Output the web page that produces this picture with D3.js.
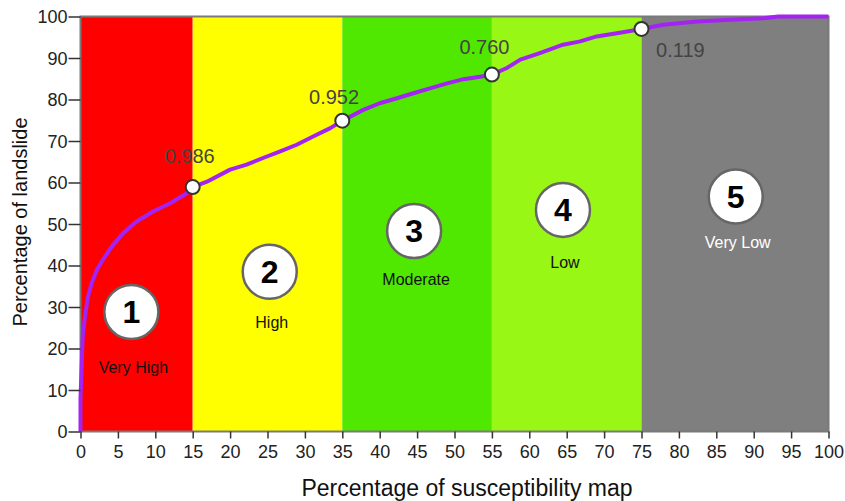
<!DOCTYPE html>
<html><head><meta charset="utf-8">
<script src="https://cdn.jsdelivr.net/npm/d3@7"></script>
<style>body{margin:0;background:#fff}svg{display:block;font-family:Arial,"Liberation Sans",sans-serif}</style>
</head><body><svg id="c" width="845" height="501"></svg>
<script>
const zoneStarts = [0, 15, 35, 55, 75];
const zoneEnds = [15, 35, 55, 75, 100];
const zoneColors = ["#ff0000", "#ffff00", "#50e800", "#99f716", "#7f7f7f"];
const zoneNumbers = ["1", "2", "3", "4", "5"];
const zoneNames = ["Very High", "High", "Moderate", "Low", "Very Low"];
const zoneNameColors = ["#111", "#111", "#111", "#111", "#fff"];
const badgeX = [6.8, 25.3, 44.6, 64.5, 87.6];
const badgeY = [28.8, 38.5, 48.3, 53.4, 56.6];
const nameY = [15.3, 26.2, 36.5, 40.5, 45.4];
const curveX = [0, 0, 0.3, 0.6, 1.0, 1.5, 2.2, 3.0, 4.2, 5.7, 7.5, 9.7, 12.0, 14.2, 15, 16.9, 20.0, 22.2, 24.4, 26.7, 28.9, 31.1, 33.4, 35, 37.8, 40.0, 42.3, 44.5, 46.7, 49.0, 51.2, 53.4, 55, 57.0, 58.8, 61.4, 64.5, 66.8, 69.0, 72.1, 75, 77.9, 82.4, 86.8, 91.3, 93.3, 100];
const curveY = [0, 8, 23, 27.7, 32.5, 35.8, 39, 41.4, 44.6, 47.8, 50.6, 53.0, 55.0, 57.4, 58.9, 60.2, 63.1, 64.3, 65.9, 67.5, 69.1, 71.1, 73.1, 74.9, 77.5, 79.1, 80.3, 81.5, 82.7, 83.9, 84.9, 85.5, 86.0, 87.6, 89.6, 91.2, 93.2, 94.0, 95.2, 96.1, 97.0, 98.0, 98.8, 99.2, 99.6, 100, 100];
const markerX = [15, 35, 55, 75];
const markerY = [58.9, 74.9, 86.0, 97.0];
const markerLabels = ["0.986", "0.952", "0.760", "0.119"];
const markerLabelX = [14.6, 33.9, 54.0, 80.2];
const markerLabelY = [64.7, 78.9, 91.0, 90.2];
const xTicks = d3.range(0, 101, 5);
const yTicks = d3.range(0, 101, 10);

const svg = d3.select("#c");
const x = d3.scaleLinear().domain([0, 100]).range([80.5, 828.5]);
const y = d3.scaleLinear().domain([0, 100]).range([431.5, 16.5]);

const g = svg.append("g");
g.selectAll("rect.zone").data(zoneStarts).join("rect")
  .attr("x", (d) => x(d)).attr("y", y(100))
  .attr("width", (d, i) => x(zoneEnds[i]) - x(d))
  .attr("height", y(0) - y(100))
  .attr("fill", (d, i) => zoneColors[i]);

// frame
g.append("rect").attr("x", x(0)).attr("y", y(100))
  .attr("width", x(100) - x(0)).attr("height", y(0) - y(100))
  .attr("fill", "none").attr("stroke", "#7a7a7a").attr("stroke-width", 2);

// axes
const xAxis = d3.axisBottom(x).tickValues(xTicks).tickSize(7).tickPadding(7).tickFormat(d3.format("d"));
const yAxis = d3.axisLeft(y).tickValues(yTicks).tickSize(12).tickPadding(1).tickFormat(d3.format("d"));
const gx = svg.append("g").attr("transform", `translate(0,${y(0)})`).call(xAxis);
const gy = svg.append("g").attr("transform", `translate(${x(0)},0)`).call(yAxis);
[gx, gy].forEach(a => {
  a.select(".domain").remove();
  a.selectAll(".tick line").attr("stroke", "#333").attr("stroke-width", 1.5);
  a.selectAll(".tick text").attr("fill", "#222").style("font-size", "18px").style("font-family", "Arial, 'Liberation Sans', sans-serif");
});
gy.selectAll(".tick text").attr("dy", "0.35em");

// axis titles
svg.append("text").attr("x", 467).attr("y", 496).attr("text-anchor", "middle")
  .style("font-size", "23px").attr("fill", "#111").text("Percentage of susceptibility map");
svg.append("text").attr("transform", "translate(27,222) rotate(-90)").attr("text-anchor", "middle")
  .style("font-size", "20px").attr("fill", "#111").text("Percentage of landslide");

// curve
const pts = curveX.map((d, i) => [d, curveY[i]]);
g.append("path").datum(pts)
  .attr("d", d3.line().x(d => x(d[0])).y(d => y(d[1])))
  .attr("fill", "none").attr("stroke", "#a323f2").attr("stroke-width", 4).attr("stroke-linejoin", "round");

// markers
g.selectAll("circle.m").data(markerX).join("circle")
  .attr("cx", d => x(d)).attr("cy", (d, i) => y(markerY[i])).attr("r", 7)
  .attr("fill", "#fff").attr("stroke", "#333").attr("stroke-width", 2);
g.selectAll("text.ml").data(markerLabels).join("text")
  .attr("x", (d, i) => x(markerLabelX[i])).attr("y", (d, i) => y(markerLabelY[i]))
  .attr("text-anchor", "middle").style("font-size", "20px").attr("fill", "#444").text(d => d);

// badges
g.selectAll("circle.b").data(zoneNumbers).join("circle")
  .attr("cx", (d, i) => x(badgeX[i])).attr("cy", (d, i) => y(badgeY[i])).attr("r", 27)
  .attr("fill", "#fff").attr("stroke", "#666").attr("stroke-width", 2.5);
g.selectAll("text.bn").data(zoneNumbers).join("text")
  .attr("x", (d, i) => x(badgeX[i])).attr("y", (d, i) => y(badgeY[i]) + 11)
  .attr("text-anchor", "middle").style("font-size", "32px").style("font-weight", "bold")
  .attr("fill", "#000").text(d => d);
g.selectAll("text.bl").data(zoneNames).join("text")
  .attr("x", (d, i) => x(badgeX[i]) + 2).attr("y", (d, i) => y(nameY[i]) + 5)
  .attr("text-anchor", "middle").style("font-size", "16px")
  .attr("fill", (d, i) => zoneNameColors[i]).text(d => d);
</script></body></html>
